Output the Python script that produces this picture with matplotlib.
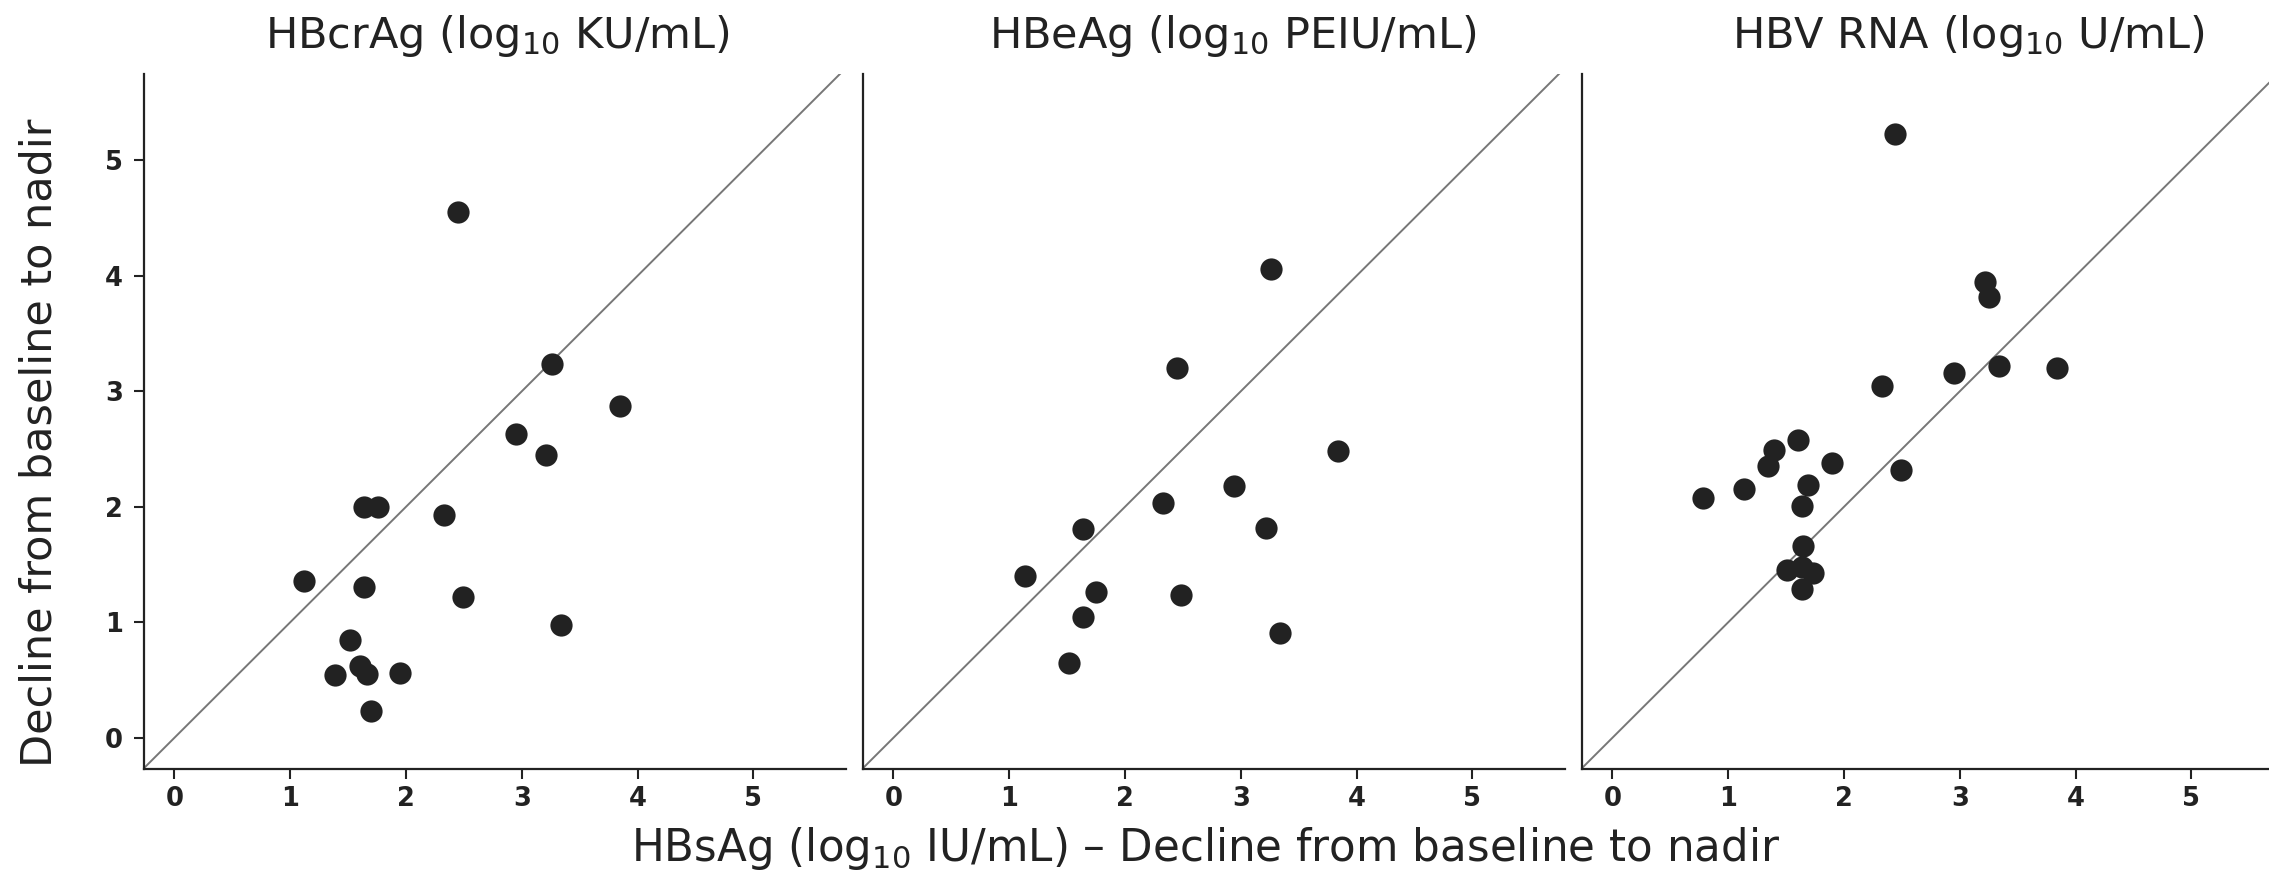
import matplotlib
matplotlib.use("Agg")
import matplotlib.pyplot as plt

# panel titles
titles = [r"HBcrAg (log$_{10}$ KU/mL)",
          r"HBeAg (log$_{10}$ PEIU/mL)",
          r"HBV RNA (log$_{10}$ U/mL)"]

# HBsAg decline (x) vs marker decline (y), one pair of lists per panel
hbcrag_x = [2.45, 3.26, 3.85, 2.95, 3.21, 1.64, 1.76, 2.33, 1.12, 1.64, 2.49, 3.34, 1.52, 1.39, 1.60, 1.66, 1.95, 1.70]
hbcrag_y = [4.55, 3.24, 2.87, 2.63, 2.45, 2.00, 2.00, 1.93, 1.36, 1.31, 1.22, 0.98, 0.85, 0.54, 0.62, 0.55, 0.56, 0.23]

hbeag_x = [3.26, 2.45, 3.84, 2.94, 2.33, 1.64, 3.22, 1.14, 1.75, 2.48, 1.64, 3.34, 1.52]
hbeag_y = [4.06, 3.20, 2.48, 2.18, 2.03, 1.81, 1.82, 1.40, 1.26, 1.24, 1.05, 0.91, 0.65]

rna_x = [2.44, 3.22, 3.25, 3.34, 3.84, 2.95, 2.33, 1.60, 1.40, 1.34, 1.90, 2.49, 1.69, 1.14, 0.78, 1.64,
         1.65, 1.51, 1.73, 1.64, 1.64]
rna_y = [5.23, 3.95, 3.82, 3.22, 3.20, 3.16, 3.05, 2.58, 2.49, 2.35, 2.38, 2.32, 2.19, 2.15, 2.08, 2.01,
         1.66, 1.45, 1.43, 1.29, 1.48]

ticks = [0, 1, 2, 3, 4, 5]

xs = [hbcrag_x, hbeag_x, rna_x]
ys = [hbcrag_y, hbeag_y, rna_y]

W, H = 2269, 872
fig = plt.figure(figsize=(W / 100, H / 100), dpi=100)

dark = "#222222"
lefts = [143.7, 862.7, 1581.7]
title_cx = [497, 1233, 1968]
ax_w = 702.3
ax_b = 103
ax_h = 695.3

for i in range(3):
    ax = fig.add_axes([lefts[i] / W, ax_b / H, ax_w / W, ax_h / H])
    ax.set_xlim(-0.265, 5.8)
    ax.set_ylim(-0.27, 5.75)

    # line of identity
    ax.plot([-0.3, 6], [-0.3, 6], color="#777777", lw=1.4, zorder=1)
    ax.plot(xs[i], ys[i], "o", color=dark, markersize=16, markeredgewidth=0, zorder=3)

    ax.spines["top"].set_visible(False)
    ax.spines["right"].set_visible(False)
    for s in ["left", "bottom"]:
        ax.spines[s].set_linewidth(1.6)
        ax.spines[s].set_color(dark)

    ax.set_xticks(ticks)
    ax.tick_params(axis="x", direction="out", length=7, width=1.5, color=dark, pad=5.5,
                   labelsize=18.5, labelcolor=dark)
    for lab in ax.get_xticklabels():
        lab.set_fontweight("bold")

    if i == 0:
        ax.set_yticks(ticks)
        ax.tick_params(axis="y", direction="out", length=7, width=1.5, color=dark, pad=8,
                       labelsize=18.5, labelcolor=dark)
        for lab in ax.get_yticklabels():
            lab.set_fontweight("bold")
    else:
        ax.set_yticks([])

    fig.text(title_cx[i] / W, 1 - 48 / H, titles[i], ha="center", va="baseline",
             fontsize=31, color=dark)

fig.text(1206 / W, 11 / H, r"HBsAg (log$_{10}$ IU/mL) – Decline from baseline to nadir",
         ha="center", va="baseline", fontsize=31.4, color=dark)
fig.text(40 / W, 1 - 443 / H, "Decline from baseline to nadir", rotation=90,
         ha="center", va="center", fontsize=31, color=dark)

fig.savefig("out.png", dpi=100)
